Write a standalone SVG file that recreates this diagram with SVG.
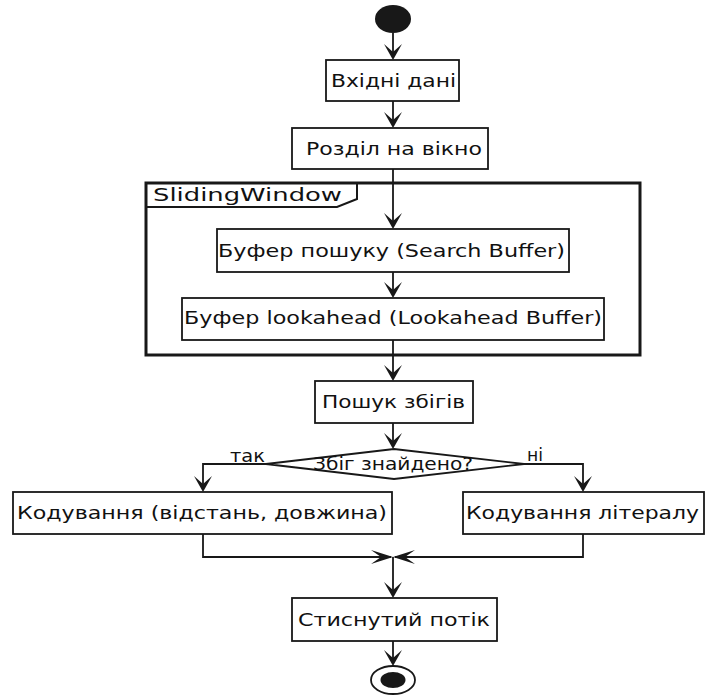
<svg xmlns="http://www.w3.org/2000/svg" width="706" height="695" viewBox="0 0 706 695">
  <style>
    .box { fill: #fff; stroke: #181818; stroke-width: 1.8; }
    .lbl { font-family: "DejaVu Sans", "Liberation Sans", sans-serif; font-size: 18.5px; fill: #111; }
    .edge { fill: none; stroke: #181818; stroke-width: 1.8; }
    .head { fill: #181818; stroke: none; }
  </style>
  <defs>
    <!-- arrowhead pointing down, tip at origin -->
    <polygon id="ahDown" class="head" points="0,0 -9,-16 0,-8 9,-16"/>
    <!-- arrowhead pointing right, tip at origin -->
    <polygon id="ahRight" class="head" points="0,0 -22,-7 -12,0 -22,7"/>
  </defs>

  <rect width="706" height="695" fill="#fff"/>

  <!-- connectors -->
  <g id="connectors">
    <line class="edge" x1="393" y1="33" x2="393" y2="58"/>
    <use href="#ahDown" x="393" y="60"/>
    <line class="edge" x1="393" y1="101" x2="393" y2="126"/>
    <use href="#ahDown" x="393" y="128"/>
    <line class="edge" x1="393" y1="169" x2="393" y2="227"/>
    <use href="#ahDown" x="393" y="229"/>
    <line class="edge" x1="393" y1="272" x2="393" y2="296"/>
    <use href="#ahDown" x="393" y="298"/>
    <line class="edge" x1="393" y1="340" x2="393" y2="379"/>
    <use href="#ahDown" x="393" y="381"/>
    <line class="edge" x1="393" y1="423" x2="393" y2="447"/>
    <use href="#ahDown" x="393" y="449"/>
    <polyline class="edge" points="266,464 203,464 203,490"/>
    <use href="#ahDown" x="203" y="492"/>
    <polyline class="edge" points="524,464 583,464 583,490"/>
    <use href="#ahDown" x="583" y="492"/>
    <polyline class="edge" points="203,534 203,557 391,557"/>
    <use href="#ahRight" x="393" y="557"/>
    <polyline class="edge" points="583,534 583,557 395,557"/>
    <use href="#ahRight" transform="translate(393,557) scale(-1,1)"/>
    <line class="edge" x1="393" y1="557" x2="393" y2="596"/>
    <use href="#ahDown" x="393" y="598"/>
    <line class="edge" x1="393" y1="641" x2="393" y2="664"/>
    <use href="#ahDown" x="393" y="666"/>
    <text class="lbl" x="230" y="462" textLength="35" lengthAdjust="spacingAndGlyphs">так</text>
    <text class="lbl" x="527" y="461" textLength="16" lengthAdjust="spacingAndGlyphs">ні</text>
  </g>

  <g id="start">
    <ellipse cx="393" cy="19" rx="18" ry="14" fill="#181818"/>
  </g>

  <g id="input">
    <rect class="box" x="326" y="60" width="133" height="41"/>
    <text class="lbl" x="331" y="87" textLength="125" lengthAdjust="spacingAndGlyphs">Вхідні дані</text>
  </g>

  <g id="split">
    <rect class="box" x="292" y="128" width="196" height="41"/>
    <text class="lbl" x="306" y="155" textLength="176" lengthAdjust="spacingAndGlyphs">Розділ на вікно</text>
  </g>

  <g id="slidingWindow">
    <rect x="146" y="183" width="494" height="172" fill="none" stroke="#181818" stroke-width="3"/>
    <polyline points="146,207 337,207 357,199 357,183" fill="none" stroke="#181818" stroke-width="2"/>
    <text class="lbl" x="153" y="201" textLength="189" lengthAdjust="spacingAndGlyphs">SlidingWindow</text>
  </g>

  <g id="searchBuffer">
    <rect class="box" x="217" y="229" width="352" height="43"/>
    <text class="lbl" x="218" y="257" textLength="347" lengthAdjust="spacingAndGlyphs">Буфер пошуку (Search Buffer)</text>
  </g>

  <g id="lookaheadBuffer">
    <rect class="box" x="182" y="298" width="422" height="42"/>
    <text class="lbl" x="184" y="324" textLength="418" lengthAdjust="spacingAndGlyphs">Буфер lookahead (Lookahead Buffer)</text>
  </g>

  <g id="findMatches">
    <rect class="box" x="315" y="381" width="158" height="42"/>
    <text class="lbl" x="322" y="408" textLength="143" lengthAdjust="spacingAndGlyphs">Пошук збігів</text>
  </g>

  <g id="matchFound">
    <polygon class="box" points="266,464 394,449 524,464 394,479"/>
    <text class="lbl" x="313" y="470" textLength="160" lengthAdjust="spacingAndGlyphs">Збіг знайдено?</text>
  </g>

  <g id="encodePair">
    <rect class="box" x="13" y="492" width="379" height="42"/>
    <text class="lbl" x="17" y="519" textLength="370" lengthAdjust="spacingAndGlyphs">Кодування (відстань, довжина)</text>
  </g>

  <g id="encodeLiteral">
    <rect class="box" x="463" y="492" width="241" height="42"/>
    <text class="lbl" x="466" y="519" textLength="233" lengthAdjust="spacingAndGlyphs">Кодування літералу</text>
  </g>

  <g id="output">
    <rect class="box" x="292" y="598" width="205" height="43"/>
    <text class="lbl" x="298" y="626" textLength="192" lengthAdjust="spacingAndGlyphs">Стиснутий потік</text>
  </g>

  <g id="end">
    <ellipse cx="393" cy="680" rx="22" ry="14" fill="#fff" stroke="#181818" stroke-width="1.8"/>
    <ellipse cx="393" cy="680" rx="12.5" ry="8" fill="#181818"/>
  </g>
</svg>
